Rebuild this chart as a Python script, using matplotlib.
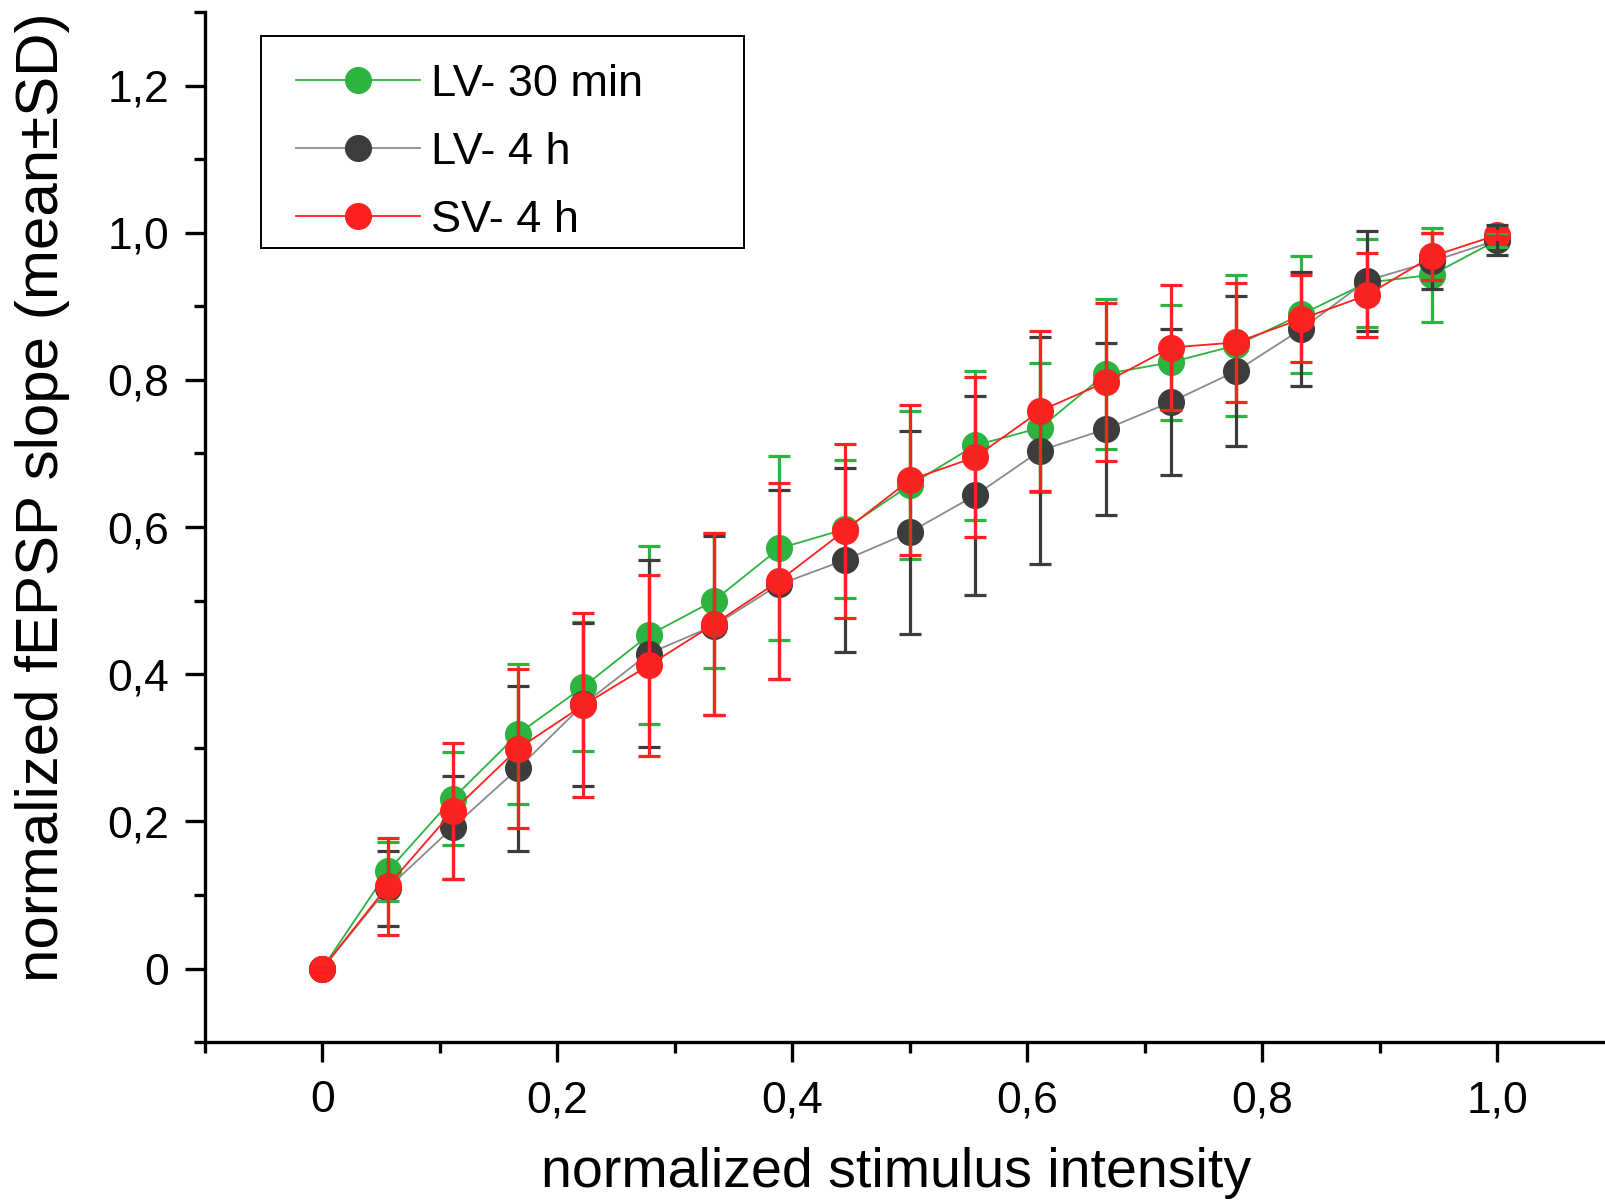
import matplotlib
matplotlib.use("Agg")
import matplotlib.pyplot as plt
from matplotlib.patches import Rectangle
from matplotlib.ticker import MultipleLocator, FuncFormatter

# intensidad normalizada (19 pasos)
intensity = [i / 18 for i in range(19)]

lv30_mean = [0, 0.132, 0.231, 0.319, 0.383, 0.453, 0.500, 0.571, 0.597, 0.657,
             0.711, 0.735, 0.808, 0.824, 0.847, 0.889, 0.932, 0.943, 0.990]
lv30_sd = [0, 0.040, 0.063, 0.095, 0.088, 0.121, 0.092, 0.125, 0.094, 0.101,
           0.101, 0.088, 0.102, 0.078, 0.096, 0.079, 0.060, 0.064, 0.010]

lv4_mean = [0, 0.109, 0.192, 0.272, 0.359, 0.428, 0.466, 0.522, 0.555, 0.593,
            0.643, 0.704, 0.733, 0.770, 0.812, 0.869, 0.935, 0.961, 0.990]
lv4_sd = [0, 0.051, 0.070, 0.112, 0.111, 0.127, 0.122, 0.129, 0.125, 0.138,
          0.135, 0.154, 0.117, 0.099, 0.102, 0.077, 0.068, 0.038, 0.020]

sv4_mean = [0, 0.112, 0.214, 0.299, 0.358, 0.412, 0.468, 0.527, 0.595, 0.664,
            0.695, 0.758, 0.797, 0.844, 0.851, 0.883, 0.915, 0.968, 0.997]
sv4_sd = [0, 0.066, 0.092, 0.108, 0.125, 0.123, 0.124, 0.133, 0.118, 0.102,
          0.109, 0.109, 0.107, 0.085, 0.081, 0.059, 0.057, 0.032, 0.006]

labels = ["LV- 30 min", "LV- 4 h", "SV- 4 h"]

plt.rcParams['font.family'] = ['Liberation Sans', 'DejaVu Sans']

fig = plt.figure(figsize=(16.05, 12.02), dpi=100)
ax = fig.add_axes([0.1276, 0.133, 0.8785, 0.857])

series = [
    (lv30_mean, lv30_sd, "#2db33f", "#2db33f", "#2db33f"),
    (lv4_mean, lv4_sd, "#8a8a8a", "#3c3c3c", "#3c3c3c"),
    (sv4_mean, sv4_sd, "#ff2020", "#ff2020", "#ff2020"),
]

for i, (m, sd, lc, mc, ec) in enumerate(series):
    ax.plot(intensity, m, color=lc, lw=1.3, marker='o', ms=18.5,
            mfc=mc, mec=mc, label=labels[i], zorder=2 + i * 0.1)

# barras de error por encima de los marcadores
for i, (m, sd, lc, mc, ec) in enumerate(series):
    ax.errorbar(intensity, m, yerr=sd, fmt='none', ecolor=ec, elinewidth=2.3,
                capsize=8, capthick=2.3, zorder=3 + i * 0.1)

ax.set_xlim(-0.1, 1.1)
ax.set_ylim(-0.1, 1.3)

ax.spines['top'].set_visible(False)
ax.spines['right'].set_visible(False)
for s in ['left', 'bottom']:
    ax.spines[s].set_linewidth(2.4)

ax.xaxis.set_major_locator(MultipleLocator(0.2))
ax.xaxis.set_minor_locator(MultipleLocator(0.1))
ax.yaxis.set_major_locator(MultipleLocator(0.2))
ax.yaxis.set_minor_locator(MultipleLocator(0.1))

fmt = FuncFormatter(lambda v, p: "0" if abs(v) < 1e-9 else f"{v:.1f}".replace('.', ','))
ax.xaxis.set_major_formatter(fmt)
ax.yaxis.set_major_formatter(fmt)

ax.tick_params(which='major', direction='out', length=14.5, width=2.4, labelsize=32)
ax.tick_params(which='minor', direction='out', length=8, width=2.4)
ax.tick_params(axis='x', which='major', pad=13)
ax.tick_params(axis='y', which='major', pad=11)

ax.set_xlabel('normalized stimulus intensity', fontsize=40)
ax.set_ylabel('normalized fEPSP slope (mean±SD)', fontsize=43.3)
ax.xaxis.set_label_coords(0.49, -0.1015)
ax.yaxis.set_label_coords(-0.0958, 0.529)

leg = ax.legend(loc='upper left', bbox_to_anchor=(296 / 1605, 0.9468),
                bbox_transform=fig.transFigure, fontsize=32.5,
                handlelength=2.75, handletextpad=0.245, labelspacing=0.597,
                borderpad=0, borderaxespad=0, frameon=False)

# marco de la leyenda
fig.patches.append(Rectangle((261 / 1605, 1 - 247.7 / 1202), 483 / 1605, 211.9 / 1202,
                             transform=fig.transFigure, fill=False,
                             edgecolor='black', linewidth=1.4, zorder=5))

plt.savefig('out.png', dpi=100)
plt.close()
